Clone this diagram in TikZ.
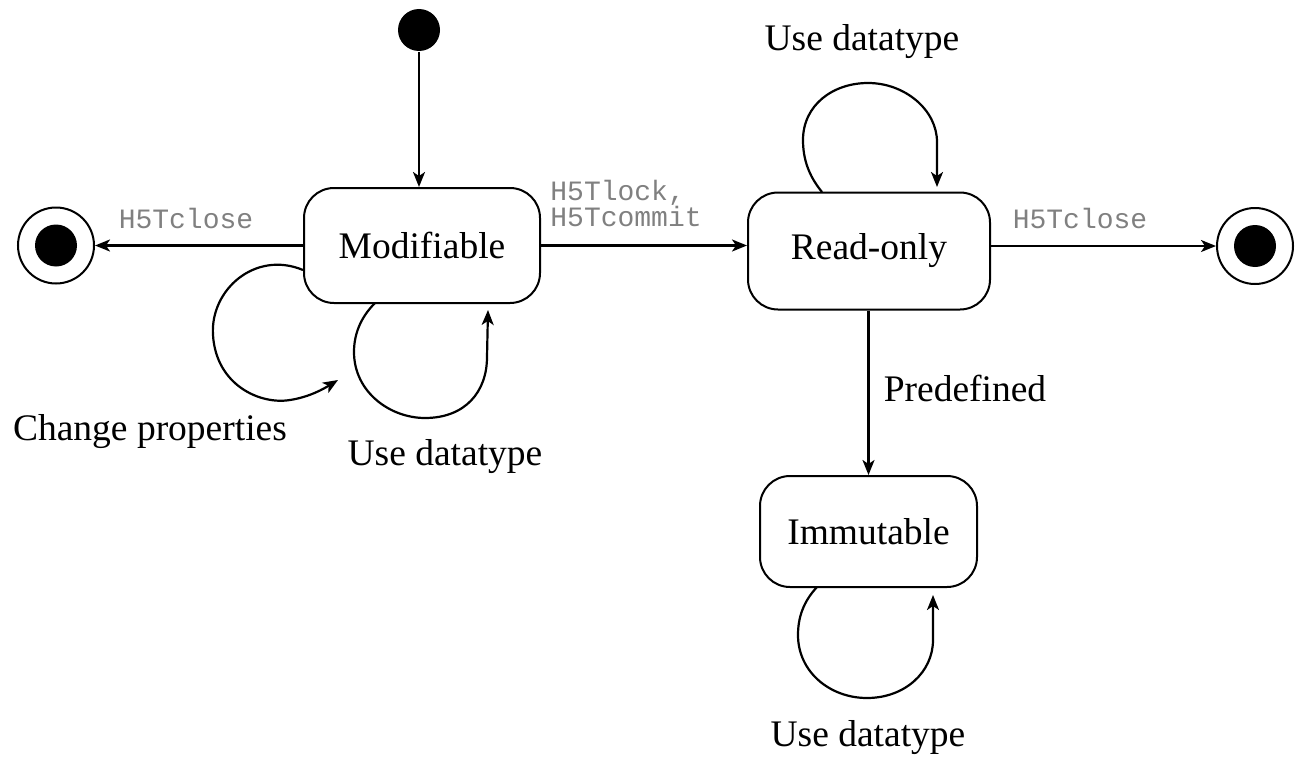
\documentclass[tikz,border=0pt]{standalone}
\usepackage{fontspec}
\setmainfont{Liberation Serif}
\setmonofont{Liberation Mono}
\usetikzlibrary{arrows.meta}
\begin{document}
\begin{tikzpicture}[x=1pt,y=-1pt,
  line width=2.2pt,
  >={Stealth[length=15pt,width=12pt,inset=4pt]},
  state/.style={draw,rounded corners=30pt,line width=2pt,font=\fontsize{37.5}{40}\selectfont,inner sep=0pt},
  lbl/.style={font=\fontsize{37.5}{40}\selectfont},
  code/.style={font=\ttfamily\fontsize{28}{25}\selectfont,text=black!50},
  finalo/.style={circle,draw,line width=2pt,minimum size=76pt,inner sep=0pt},
  dot/.style={circle,fill=black,inner sep=0pt,minimum size=42pt}]
\useasboundingbox (0,0) rectangle (1296,760);
% states
\node[state,minimum width=236pt,minimum height=115pt] (mod) at (422,245.5) {Modifiable};
\node[state,minimum width=242pt,minimum height=117pt] (ro) at (869,251) {Read-only};
\node[state,minimum width=217pt,minimum height=111pt] (imm) at (868.5,531.5) {Immutable};
% initial and finals
\node[dot] (init) at (419,30) {};
\node[finalo] (fl) at (56,245.5) {};
\node[dot] (fli) at (56,245.5) {};
\node[finalo] (fr) at (1255,246) {};
\node[dot] (fri) at (1255,246) {};
% straight transitions
\draw[->] (init) -- (init |- mod.north);
\draw[->] (mod.west) -- (fl.east);
\draw[->] (mod.east) -- (ro.west |- mod.east);
\draw[->] (ro.east |- fr.west) -- (fr.west);
\draw[->] (ro.south -| imm.north) -- (imm.north);
% labels
\node[code] (l1) at (186,218) {H5Tclose};
\node[code,align=left,anchor=north west] (l2) at (546,176) {H5Tlock,\\H5Tcommit};
\node[code] (l3) at (1080,218) {H5Tclose};
\node[lbl] (l4) at (965,388) {Predefined};
\node[lbl] (l5) at (150,432) {Change properties};
\node[lbl] (l6) at (445,457) {Use datatype};
\node[lbl] (l7) at (862,42) {Use datatype};
\node[lbl] (l8) at (868,738) {Use datatype};
% self loops
\coordinate (c1s) at (mod.west |- 0,270);
\coordinate (c1e) at (338,380);
\draw[->] (c1s) .. controls (255,250) and (210,290) .. (213,335)
  .. controls (216,385) and (260,405) .. (290,400)
  .. controls (310,397) and (325,388) .. (c1e);
\coordinate (c2s) at (375,303);
\coordinate (c2e) at (488,310);
\draw[->] (c2s) .. controls (360,318) and (354,335) .. (354,352)
  .. controls (354,392) and (390,418) .. (425,418)
  .. controls (465,418) and (487,392) .. (487,357) -- (c2e);
\coordinate (c3s) at (822,192);
\coordinate (c3e) at (937,187);
\draw[->] (c3s) .. controls (808,175) and (803,158) .. (803,140)
  .. controls (803,105) and (833,83) .. (868,83)
  .. controls (905,83) and (937,110) .. (937,142) -- (c3e);
\coordinate (c4s) at (817,587);
\coordinate (c4e) at (933,595);
\draw[->] (c4s) .. controls (803,602) and (798,618) .. (798,635)
  .. controls (798,672) and (830,698) .. (867,698)
  .. controls (905,698) and (933,672) .. (933,640) -- (c4e);
\end{tikzpicture}
\end{document}
